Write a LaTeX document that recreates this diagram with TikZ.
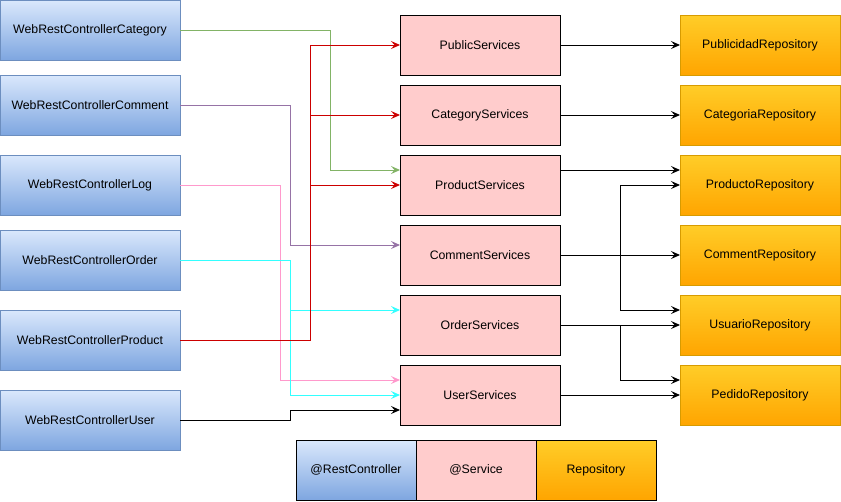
\documentclass[tikz,border=0pt]{standalone}
\usepackage{fontspec}
\setmainfont{Liberation Sans}
\usetikzlibrary{arrows.meta}
\definecolor{ctrlTop}{HTML}{DAE8FC}
\definecolor{ctrlBot}{HTML}{7EA6E0}
\definecolor{ctrlLine}{HTML}{6C8EBF}
\definecolor{svcFill}{HTML}{FFCCCC}
\definecolor{repoTop}{HTML}{FFCD28}
\definecolor{repoBot}{HTML}{FFA500}
\definecolor{repoLine}{HTML}{D79B00}
\definecolor{cGreen}{HTML}{82B366}
\definecolor{cRed}{HTML}{CC0000}
\definecolor{cPurple}{HTML}{9673A6}
\definecolor{cPink}{HTML}{FF99CC}
\definecolor{cCyan}{HTML}{33FFFF}
\tikzset{
  box/.style={rectangle, minimum width=180pt, minimum height=60pt, inner sep=0pt, outer sep=0pt,
    line width=1pt, font=\fontsize{12.3}{14}\selectfont, text=black},
  ctrl/.style={box, draw=ctrlLine, top color=ctrlTop, bottom color=ctrlBot},
  svc/.style={box, minimum width=160pt, draw=black, fill=svcFill},
  repo/.style={box, minimum width=160pt, draw=repoLine, top color=repoTop, bottom color=repoBot},
  legbox/.style={box, minimum width=120pt, draw=black},
  conn/.style={line width=1pt, -{Stealth[length=9pt,width=8pt,inset=3.5pt]}},
}
\begin{document}
\begin{tikzpicture}[x=1pt,y=-1pt]
\useasboundingbox (0,0) rectangle (841,501);
% controllers
\node[ctrl] (cCat) at (90,30) {WebRestControllerCategory};
\node[ctrl] (cCom) at (90,105) {WebRestControllerComment};
\node[ctrl] (cLog) at (90,185) {WebRestControllerLog};
\node[ctrl] (cOrd) at (90,260) {WebRestControllerOrder};
\node[ctrl] (cProd) at (90,340) {WebRestControllerProduct};
\node[ctrl] (cUser) at (90,420) {WebRestControllerUser};
% services
\node[svc] (sPub) at (480,45) {PublicServices};
\node[svc] (sCat) at (480,115) {CategoryServices};
\node[svc] (sProd) at (480,185) {ProductServices};
\node[svc] (sCom) at (480,255) {CommentServices};
\node[svc] (sOrd) at (480,325) {OrderServices};
\node[svc] (sUser) at (480,395) {UserServices};
% repositories
\node[repo] (rPub) at (760,45) {PublicidadRepository};
\node[repo] (rCat) at (760,115) {CategoriaRepository};
\node[repo] (rProd) at (760,185) {ProductoRepository};
\node[repo] (rCom) at (760,255) {CommentRepository};
\node[repo] (rUsu) at (760,325) {UsuarioRepository};
\node[repo] (rPed) at (760,395) {PedidoRepository};
% legend
\node[legbox, top color=ctrlTop, bottom color=ctrlBot] (lCtrl) at (356,470) {@RestController};
\node[legbox, fill=svcFill] (lSvc) at (476,470) {@Service};
\node[legbox, top color=repoTop, bottom color=repoBot] (lRepo) at (596,470) {Repository};
% controller -> service
\draw[conn, cGreen] (cCat.east) -| (330,170) -- ([yshift=15pt]sProd.west);
\draw[conn, cPurple] (cCom.east) -| (290,245) -- ([yshift=10pt]sCom.west);
\draw[conn, cPink] (cLog.east) -| (280,380) -- ([yshift=15pt]sUser.west);
\draw[conn, cCyan] (cOrd.east) -| (290,395) -- (sUser.west);
\draw[conn, cCyan] (290,310) -- ([yshift=15pt]sOrd.west);
\draw[conn, black] (cUser.east) -| (290,410) -- ([yshift=-15pt]sUser.west);
\draw[conn, cRed] (cProd.east) -| (310,45) -- (sPub.west);
\draw[conn, cRed] (310,115) -- (sCat.west);
\draw[conn, cRed] (310,185) -- (sProd.west);
% service -> repository
\draw[conn] (sPub.east) -- (rPub.west);
\draw[conn] (sCat.east) -- (rCat.west);
\draw[conn] ([yshift=15pt]sProd.east) -- ([yshift=15pt]rProd.west);
\draw[conn] (sCom.east) -- (rCom.west);
\draw[conn] (sCom.east) -| (620,185) -- (rProd.west);
\draw[conn] (sCom.east) -| (620,310) -- ([yshift=15pt]rUsu.west);
\draw[conn] (sOrd.east) -- (rUsu.west);
\draw[conn] (sOrd.east) -| (620,380) -- ([yshift=15pt]rPed.west);
\draw[conn] (sUser.east) -- (rPed.west);
\end{tikzpicture}
\end{document}
